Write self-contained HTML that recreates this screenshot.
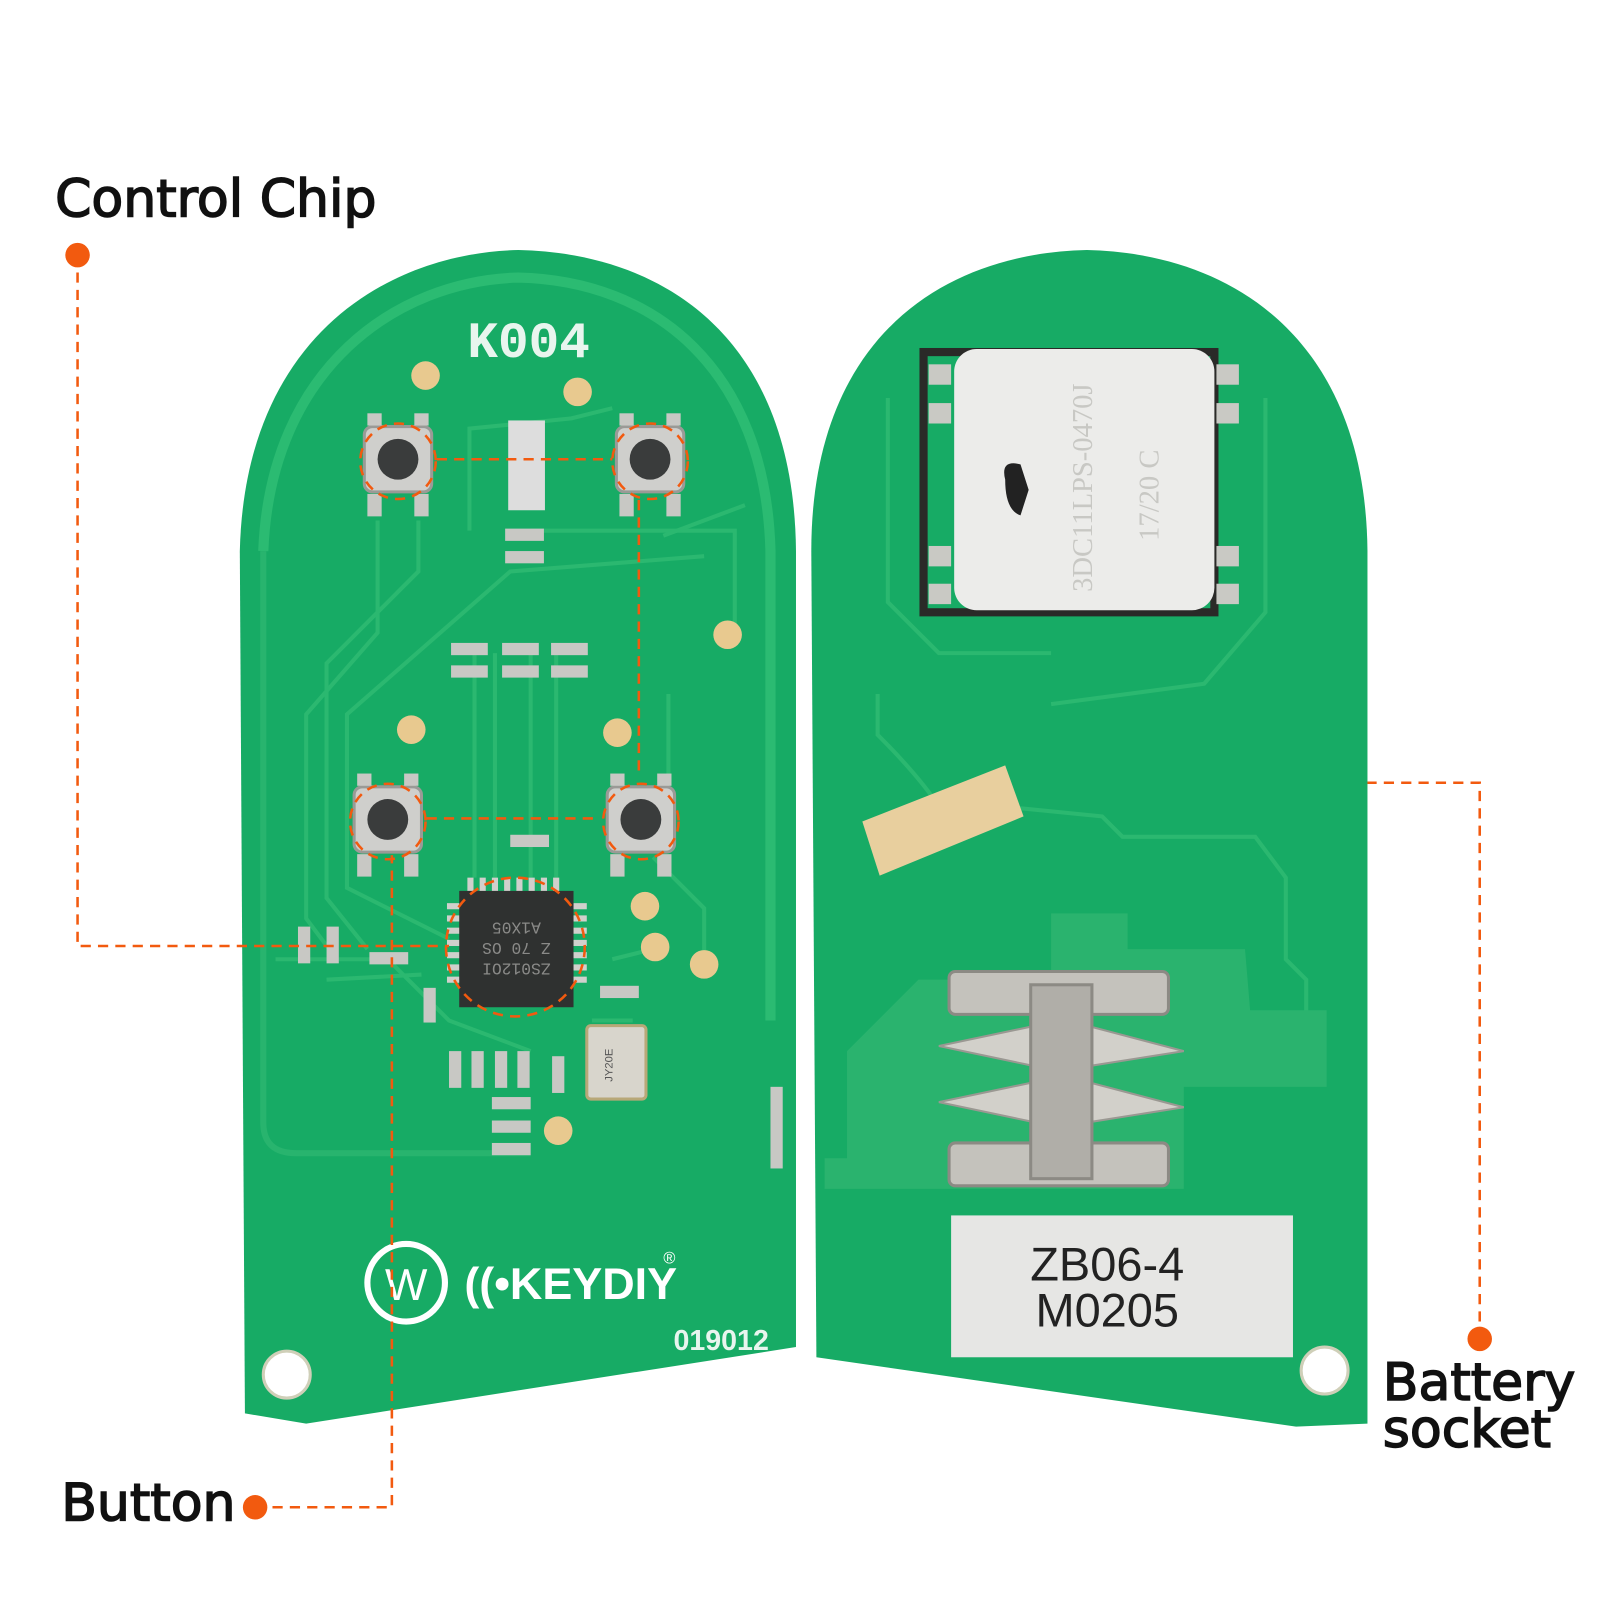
<!DOCTYPE html>
<html><head><meta charset="utf-8"><style>
html,body{margin:0;padding:0;background:#fff;}
svg{display:block}
</style></head><body>
<svg width="1600" height="1600" viewBox="0 0 1600 1600" xmlns="http://www.w3.org/2000/svg">
<g transform="scale(1.0205)">
<!-- LEFT BOARD -->
<path d="M235,540 C240,330 380,248 508,245 C650,248 778,330 780,540 L780,1320 L300,1395 L240,1385 Z" fill="#17ab65"/>
<path d="M258,540 C265,360 390,275 508,272 C640,275 750,360 755,540 L755,1000" fill="none" stroke="#2bbb72" stroke-width="10"/>
<path d="M258,540 L258,1100 Q258,1130 290,1130 L520,1130" fill="none" stroke="#28b46e" stroke-width="6"/>
<text x="458" y="350" font-family="Liberation Mono, monospace" font-size="50" font-weight="bold" fill="#e8f5ee">K004</text>
<g fill="none" stroke="#2bb870" stroke-width="4">
<path d="M370,510 L370,620 L300,700 L300,900 L330,940"/>
<path d="M410,510 L410,560 L320,650 L320,880 L360,930"/>
<path d="M460,520 L460,420 L560,410 L600,400"/>
<path d="M520,520 L720,520 L720,620"/>
<path d="M690,545 L500,560 L340,700 L340,870 L440,920"/>
<path d="M465,640 L465,860 M485,640 L485,860 M520,640 L520,860 M545,640 L545,860"/>
<path d="M655,680 L655,820 M640,840 L690,890 L690,940"/>
<path d="M600,940 L640,930 M580,1000 L620,1000"/>
<path d="M650,525 L730,495 M413,955 L320,960"/>
<path d="M270,940 L380,940 L440,1000 L520,1030"/>
</g>
<g fill="#e8c98f"><circle cx="417" cy="368" r="14"/><circle cx="566" cy="384" r="14"/><circle cx="713" cy="622" r="14"/><circle cx="403" cy="715" r="14"/><circle cx="605" cy="718" r="14"/><circle cx="632" cy="888" r="14"/><circle cx="642" cy="928" r="14"/><circle cx="690" cy="945" r="14"/><circle cx="547" cy="1108" r="14"/></g>
<g>
<rect x="357" y="418" width="66" height="64" rx="8" fill="#cfcfcc" stroke="#9a9a96" stroke-width="3"/><circle cx="390" cy="450" r="20" fill="#3a3c3c"/>
<rect x="604" y="418" width="66" height="64" rx="8" fill="#cfcfcc" stroke="#9a9a96" stroke-width="3"/><circle cx="637" cy="450" r="20" fill="#3a3c3c"/>
<rect x="347" y="771" width="66" height="64" rx="8" fill="#cfcfcc" stroke="#9a9a96" stroke-width="3"/><circle cx="380" cy="803" r="20" fill="#3a3c3c"/>
<rect x="595" y="771" width="66" height="64" rx="8" fill="#cfcfcc" stroke="#9a9a96" stroke-width="3"/><circle cx="628" cy="803" r="20" fill="#3a3c3c"/>
</g>
<g fill="#c8c8c4">
<rect x="360" y="405" width="14" height="12"/><rect x="406" y="405" width="14" height="12"/><rect x="360" y="484" width="14" height="22"/><rect x="406" y="484" width="14" height="22"/>
<rect x="607" y="405" width="14" height="12"/><rect x="653" y="405" width="14" height="12"/><rect x="607" y="484" width="14" height="22"/><rect x="653" y="484" width="14" height="22"/>
<rect x="350" y="758" width="14" height="12"/><rect x="396" y="758" width="14" height="12"/><rect x="350" y="837" width="14" height="22"/><rect x="396" y="837" width="14" height="22"/>
<rect x="598" y="758" width="14" height="12"/><rect x="644" y="758" width="14" height="12"/><rect x="598" y="837" width="14" height="22"/><rect x="644" y="837" width="14" height="22"/>
<rect x="498" y="412" width="36" height="88" fill="#ddd"/>
<rect x="442" y="630" width="36" height="12"/><rect x="492" y="630" width="36" height="12"/><rect x="540" y="630" width="36" height="12"/>
<rect x="442" y="652" width="36" height="12"/><rect x="492" y="652" width="36" height="12"/><rect x="540" y="652" width="36" height="12"/>
<rect x="495" y="518" width="38" height="12"/><rect x="495" y="540" width="38" height="12"/>
<rect x="500" y="818" width="38" height="12"/>
<rect x="292" y="908" width="12" height="36"/><rect x="320" y="908" width="12" height="36"/><rect x="362" y="933" width="38" height="12"/>
<rect x="415" y="968" width="12" height="34"/><rect x="588" y="966" width="38" height="12"/>
<rect x="440" y="1030" width="12" height="36"/><rect x="462" y="1030" width="12" height="36"/><rect x="485" y="1030" width="12" height="36"/><rect x="507" y="1030" width="12" height="36"/><rect x="541" y="1035" width="12" height="36"/>
<rect x="482" y="1075" width="38" height="12"/><rect x="482" y="1098" width="38" height="12"/><rect x="482" y="1120" width="38" height="12"/>
<rect x="755" y="1065" width="12" height="80"/>
</g>
<rect x="575" y="1005" width="58" height="72" rx="4" fill="#d8d5cc" stroke="#b8a878" stroke-width="3"/>
<text x="0" y="0" transform="translate(600,1060) rotate(-90)" font-family="Liberation Sans, sans-serif" font-size="11" fill="#555">JY20E</text>
<g fill="#d0d0cc">
<rect x="458" y="860" width="6" height="15"/><rect x="470" y="860" width="6" height="15"/><rect x="482" y="860" width="6" height="15"/><rect x="494" y="860" width="6" height="15"/><rect x="506" y="860" width="6" height="15"/><rect x="518" y="860" width="6" height="15"/><rect x="530" y="860" width="6" height="15"/><rect x="542" y="860" width="6" height="15"/>
<rect x="438" y="885" width="15" height="6"/><rect x="438" y="897" width="15" height="6"/><rect x="438" y="909" width="15" height="6"/><rect x="438" y="921" width="15" height="6"/><rect x="438" y="933" width="15" height="6"/><rect x="438" y="945" width="15" height="6"/><rect x="438" y="957" width="15" height="6"/>
<rect x="560" y="885" width="15" height="6"/><rect x="560" y="897" width="15" height="6"/><rect x="560" y="909" width="15" height="6"/><rect x="560" y="921" width="15" height="6"/><rect x="560" y="933" width="15" height="6"/><rect x="560" y="945" width="15" height="6"/><rect x="560" y="957" width="15" height="6"/>
</g>
<rect x="450" y="873" width="112" height="114" fill="#2f3130"/>
<g transform="translate(506,930) rotate(180)" font-family="Liberation Mono, monospace" font-size="16" fill="#8a8a88" text-anchor="middle"><text y="-14">ZS012OI</text><text y="6">Z 70 OS</text><text y="26">A1X05</text></g>
<circle cx="398" cy="1257" r="38" fill="none" stroke="#fff" stroke-width="6"/>
<text x="398" y="1274" text-anchor="middle" font-family="Liberation Sans, sans-serif" font-size="44" fill="#fff">W</text>
<text x="455" y="1273" font-family="Liberation Sans, sans-serif" font-size="44" font-weight="bold" fill="#fff">((•KEYDIY</text>
<text x="650" y="1238" font-family="Liberation Sans, sans-serif" font-size="16" fill="#fff">®</text>
<text x="660" y="1323" font-family="Liberation Sans, sans-serif" font-size="28" font-weight="bold" fill="#e8f5ee">019012</text>
<circle cx="281" cy="1347" r="23" fill="#fff" stroke="#cfcfb8" stroke-width="3"/>

<!-- RIGHT BOARD -->
<path d="M795,540 C795,330 925,248 1065,245 C1205,248 1338,330 1340,540 L1340,1395 L1270,1398 L800,1330 Z" fill="#17ab65"/>
<path d="M870,390 L870,590 L920,640 L1030,640 M1240,390 L1240,600 L1180,670 L1030,690" fill="none" stroke="#2bb870" stroke-width="4"/>
<path d="M860,680 L860,720 Q900,760 920,790 M980,790 L1080,800 L1100,820 L1230,820 L1260,860 L1260,940 L1280,960 L1280,1020 L1190,1030" fill="none" stroke="#2bb870" stroke-width="4"/>
<path d="M1030,895 L1105,895 L1105,930 L1220,930 L1225,990 L1300,990 L1300,1065 L1160,1065 L1160,1165 L808,1165 L808,1135 L830,1135 L830,1030 L900,960 L1030,960 Z" fill="#2ab36e"/>
<rect x="905" y="345" width="285" height="255" fill="none" stroke="#2a2a28" stroke-width="8"/>
<rect x="935" y="342" width="255" height="256" rx="22" fill="#ececea"/>
<g fill="#c9c9c4"><rect x="910" y="357" width="22" height="20"/><rect x="910" y="395" width="22" height="20"/><rect x="910" y="535" width="22" height="20"/><rect x="910" y="572" width="22" height="20"/><rect x="1192" y="357" width="22" height="20"/><rect x="1192" y="395" width="22" height="20"/><rect x="1192" y="535" width="22" height="20"/><rect x="1192" y="572" width="22" height="20"/></g>
<path d="M985,470 Q980,450 1000,455 L1008,480 L1000,505 Q985,500 985,470 Z" fill="#222"/>
<text transform="translate(1070,580) rotate(-90)" font-family="Liberation Serif, serif" font-size="28" fill="#c8c8c4">3DC11LPS-0470J</text>
<text transform="translate(1135,530) rotate(-90)" font-family="Liberation Serif, serif" font-size="28" fill="#c8c8c4">17/20  C</text>
<path d="M845,805 L985,750 L1003,800 L862,858 Z" fill="#e8cf9e"/>
<g>
<rect x="930" y="952" width="215" height="42" rx="6" fill="#c4c2bc" stroke="#8c8a84" stroke-width="3"/>
<rect x="930" y="1120" width="215" height="42" rx="6" fill="#c4c2bc" stroke="#8c8a84" stroke-width="3"/>
<path d="M920,1025 L1015,1005 L1065,1005 L1160,1030 L1065,1045 L1015,1045 Z M920,1080 L1015,1060 L1065,1060 L1160,1085 L1065,1100 L1015,1100 Z" fill="#d2d0ca" stroke="#9a9892" stroke-width="2"/>
<rect x="1010" y="965" width="60" height="190" fill="#b0aea8" stroke="#8c8a84" stroke-width="3"/>
</g>
<rect x="932" y="1191" width="335" height="139" fill="#e6e6e4"/>
<text x="1085" y="1255" text-anchor="middle" font-family="Liberation Sans, sans-serif" font-size="46" fill="#222">ZB06-4</text>
<text x="1085" y="1300" text-anchor="middle" font-family="Liberation Sans, sans-serif" font-size="46" fill="#222">M0205</text>
<circle cx="1298" cy="1343" r="23" fill="#fff" stroke="#cfcfb8" stroke-width="3"/>

<!-- ANNOTATIONS -->
<g fill="none" stroke="#f25a0f" stroke-width="2.5" stroke-dasharray="10,7">
<path d="M76,250 L76,927 L440,927"/>
<path d="M250,1477 L384,1477 L384,838"/>
<path d="M1450,1312 L1450,767 L1340,767"/>
<path d="M428,450 L600,450 M626,490 L626,760 M418,802 L588,802"/>
<circle cx="390" cy="452" r="37"/><circle cx="637" cy="452" r="37"/><circle cx="380" cy="805" r="37"/><circle cx="628" cy="805" r="37"/>
<circle cx="505" cy="928" r="68"/>
</g>
<g fill="#f25a0f"><circle cx="76" cy="250" r="12"/><circle cx="250" cy="1477" r="12"/><circle cx="1450" cy="1312" r="12"/></g>
<g font-family="DejaVu Sans, Liberation Sans, sans-serif" font-size="51" fill="#111" stroke="#111" stroke-width="1.5">
<text x="54" y="212">Control Chip</text>
<text x="60" y="1490">Button</text>
<text x="1355" y="1372">Battery</text>
<text x="1355" y="1418">socket</text>
</g>
</g>
</svg>
</body></html>
